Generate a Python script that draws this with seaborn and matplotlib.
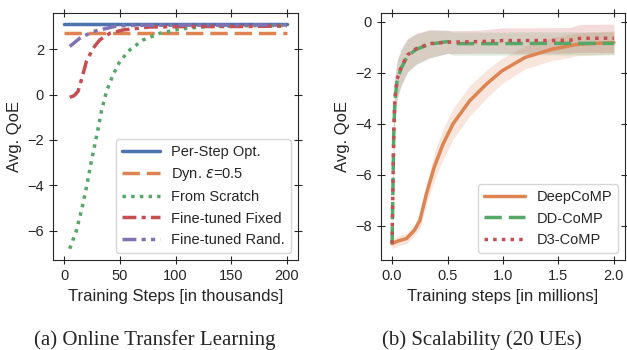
import numpy as np
import pandas as pd
import matplotlib
matplotlib.use("Agg")
import matplotlib.pyplot as plt
import seaborn as sns

# ---------------- Left panel data (thousands of steps) ----------------
opt_x = [0, 200]
opt_y = [3.1, 3.1]
dyn_x = [0, 200]
dyn_y = [2.7, 2.7]
scratch_x = [5, 11, 15.6, 20, 24.6, 29.5, 33.5, 38, 44, 50, 59, 71, 86, 104, 128, 160, 200]
scratch_y = [-6.8, -6.0, -5.1, -4.1, -2.9, -1.75, -0.73, 0.14, 0.88, 1.46, 1.97, 2.41, 2.7, 2.89, 3.0, 3.03, 3.05]
fixed_x = [5, 9, 12.5, 16, 20, 26, 32, 41, 53, 77, 120, 160, 200]
fixed_y = [-0.12, -0.05, 0.14, 0.73, 1.46, 2.04, 2.41, 2.7, 2.85, 2.98, 3.0, 3.0, 3.02]
rand_x = [5, 14, 26, 41, 47, 60, 100, 150, 200]
rand_y = [2.12, 2.48, 2.78, 2.95, 3.02, 3.05, 3.06, 3.06, 3.07]

# ---------------- Right panel data (millions of steps) ----------------
deep_x = [0.0, 0.05, 0.13, 0.2, 0.25, 0.31, 0.38, 0.46, 0.55, 0.7, 0.85, 0.99, 1.2, 1.44, 1.68, 2.0]
deep_y = [-8.7, -8.6, -8.5, -8.18, -7.8, -6.74, -5.7, -4.79, -4.0, -3.1, -2.45, -1.93, -1.4, -1.08, -0.88, -0.82]
deep_err = [0.2, 0.2, 0.2, 0.22, 0.3, 0.4, 0.55, 0.6, 0.6, 0.6, 0.55, 0.5, 0.45, 0.45, 0.45, 0.45]

dd_x = [0.0, 0.015, 0.025, 0.045, 0.084, 0.14, 0.22, 0.34, 0.5, 0.55, 0.8, 1.0, 1.3, 1.6, 1.8, 2.0]
dd_y = [-8.7, -4.4, -3.1, -2.3, -1.8, -1.34, -1.08, -0.88, -0.78, -0.86, -0.86, -0.86, -0.85, -0.85, -0.85, -0.85]
dd_err = [0.2, 0.9, 0.8, 0.75, 0.7, 0.65, 0.6, 0.55, 0.45, 0.45, 0.45, 0.45, 0.45, 0.45, 0.45, 0.45]

d3_x = [0.0, 0.015, 0.025, 0.045, 0.084, 0.14, 0.22, 0.34, 0.5, 0.55, 0.8, 1.0, 1.3, 1.6, 1.7, 2.0]
d3_y = [-8.7, -4.3, -3.0, -2.25, -1.75, -1.3, -1.05, -0.86, -0.8, -0.8, -0.78, -0.74, -0.74, -0.73, -0.65, -0.65]
d3_err = [0.2, 0.9, 0.8, 0.75, 0.7, 0.65, 0.6, 0.55, 0.45, 0.45, 0.45, 0.5, 0.5, 0.5, 0.55, 0.55]

captions = ["(a) Online Transfer Learning", "(b) Scalability (20 UEs)"]

sns.set_style("ticks")
plt.rcParams.update({
    "xtick.top": True, "ytick.right": True,
    "xtick.direction": "inout", "ytick.direction": "inout",
    "xtick.major.size": 6, "ytick.major.size": 6,
    "font.size": 10.5,
    "xtick.labelsize": 10.5, "ytick.labelsize": 10.5,
})
plt.rcParams["font.family"] = ["Liberation Sans", "DejaVu Sans"]

pal = sns.color_palette("deep")

fig = plt.figure(figsize=(6.27, 3.5), dpi=100)
ax1 = fig.add_axes([53/627, 90/350, 245/627, 247/350])
ax2 = fig.add_axes([381/627, 90/350, 244/627, 247/350])

lw = 2.5
sns.lineplot(x=opt_x, y=opt_y, ax=ax1, color=pal[0], lw=lw, label="Per-Step Opt.")
sns.lineplot(x=dyn_x, y=dyn_y, ax=ax1, color=pal[1], lw=lw, label=r"Dyn. $\varepsilon$=0.5")
ax1.lines[-1].set_dashes((5, 2))
sns.lineplot(x=scratch_x, y=scratch_y, ax=ax1, color=pal[2], lw=lw, label="From Scratch")
ax1.lines[-1].set_dashes((1, 1.5))
sns.lineplot(x=fixed_x, y=fixed_y, ax=ax1, color=pal[3], lw=lw, label="Fine-tuned Fixed")
ax1.lines[-1].set_dashes((4, 1.5, 1.2, 1.5))
sns.lineplot(x=rand_x, y=rand_y, ax=ax1, color=pal[4], lw=lw, label="Fine-tuned Rand.")
ax1.lines[-1].set_dashes((4, 1.5, 1.2, 1.5, 1.2, 1.5))

ax1.set_xlabel("Training Steps [in thousands]", fontsize=12)
ax1.set_ylabel("Avg. QoE", fontsize=12)
ax1.set_xticks([0, 50, 100, 150, 200])
ax1.set_yticks([-6, -4, -2, 0, 2])
ax1.set_xlim(-10, 210)
ax1.legend(loc="lower right", fontsize=10.5, handlelength=2.6, frameon=True)

series = [
    (deep_x, deep_y, deep_err, pal[1], "DeepCoMP", None),
    (dd_x, dd_y, dd_err, pal[2], "DD-CoMP", (5, 2)),
    (d3_x, d3_y, d3_err, pal[3], "D3-CoMP", (1, 1.5)),
]
for xs, ys, es, c, lab, dash in series:
    xs = np.array(xs); ys = np.array(ys); es = np.array(es)
    sns.lineplot(x=xs, y=ys, ax=ax2, color=c, lw=lw, label=lab)
    if dash:
        ax2.lines[-1].set_dashes(dash)
    ax2.fill_between(xs, ys - es, ys + es, color=c, alpha=0.2, lw=0)

ax2.set_xlabel("Training steps [in millions]", fontsize=12)
ax2.set_ylabel("Avg. QoE", fontsize=12)
ax2.set_xticks([0.0, 0.5, 1.0, 1.5, 2.0])
ax2.set_yticks([-8, -6, -4, -2, 0])
ax2.legend(loc="lower right", fontsize=10.5, handlelength=2.8, frameon=True)

fig.text(155/627, 1 - 340/350, captions[0], ha="center", va="center",
         family="Liberation Serif", fontsize=15)
fig.text(482/627, 1 - 340/350, captions[1], ha="center", va="center",
         family="Liberation Serif", fontsize=15)

fig.savefig("out.png", dpi=100)
